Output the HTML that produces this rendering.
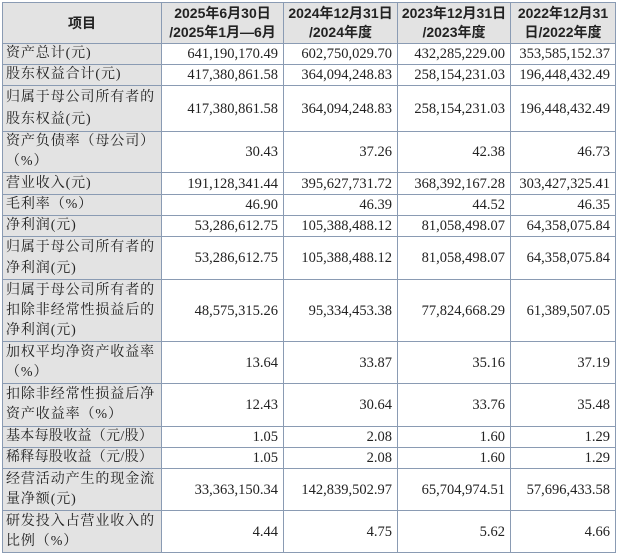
<!DOCTYPE html>
<html><head><meta charset="utf-8"><style>
body{margin:0;background:#fff;width:617px;height:554px;overflow:hidden}
table{position:absolute;left:2px;top:2px;border-collapse:collapse;table-layout:fixed;font-family:"Liberation Serif","Noto Serif CJK SC",serif;font-size:14.5px;color:#222}
td,th{border:1px solid #8a9bb3;padding:0 5px;line-height:18px;box-sizing:border-box;white-space:nowrap;overflow:hidden}
th{background:#e3e3e3;font-family:"Liberation Sans","Noto Sans CJK SC",sans-serif;font-weight:bold;font-size:14px;text-align:center;line-height:19px;padding:0 2px}
td.l{background:#e3e3e3;text-align:left;font-family:"Liberation Serif","Noto Serif CJK SC",serif;letter-spacing:0.9px;font-size:14px;padding:0 0 0 3px;line-height:20px}
td{text-align:right}
</style></head><body>
<table>
<colgroup><col style="width:159px"><col style="width:122px"><col style="width:114px"><col style="width:113px"><col style="width:105px"></colgroup>
<tr style="height:41px"><th>项目</th><th>2025年6月30日<br>/2025年1月—6月</th><th>2024年12月31日<br>/2024年度</th><th>2023年12月31日<br>/2023年度</th><th>2022年12月31<br>日/2022年度</th></tr>
<tr style="height:20px"><td class="l">资产总计(元)</td><td>641,190,170.49</td><td>602,750,029.70</td><td>432,285,229.00</td><td>353,585,152.37</td></tr>
<tr style="height:20px"><td class="l">股东权益合计(元)</td><td>417,380,861.58</td><td>364,094,248.83</td><td>258,154,231.03</td><td>196,448,432.49</td></tr>
<tr style="height:46px"><td class="l" style="line-height:22px">归属于母公司所有者的<br>股东权益(元)</td><td>417,380,861.58</td><td>364,094,248.83</td><td>258,154,231.03</td><td>196,448,432.49</td></tr>
<tr style="height:41px"><td class="l">资产负债率（母公司）<br>（%）</td><td>30.43</td><td>37.26</td><td>42.38</td><td>46.73</td></tr>
<tr style="height:22px"><td class="l">营业收入(元)</td><td>191,128,341.44</td><td>395,627,731.72</td><td>368,392,167.28</td><td>303,427,325.41</td></tr>
<tr style="height:20px"><td class="l">毛利率（%）</td><td>46.90</td><td>46.39</td><td>44.52</td><td>46.35</td></tr>
<tr style="height:21px"><td class="l">净利润(元)</td><td>53,286,612.75</td><td>105,388,488.12</td><td>81,058,498.07</td><td>64,358,075.84</td></tr>
<tr style="height:43px"><td class="l" style="line-height:21px">归属于母公司所有者的<br>净利润(元)</td><td>53,286,612.75</td><td>105,388,488.12</td><td>81,058,498.07</td><td>64,358,075.84</td></tr>
<tr style="height:62px"><td class="l">归属于母公司所有者的<br>扣除非经常性损益后的<br>净利润(元)</td><td>48,575,315.26</td><td>95,334,453.38</td><td>77,824,668.29</td><td>61,389,507.05</td></tr>
<tr style="height:42px"><td class="l">加权平均净资产收益率<br>（%）</td><td>13.64</td><td>33.87</td><td>35.16</td><td>37.19</td></tr>
<tr style="height:43px"><td class="l">扣除非经常性损益后净<br>资产收益率（%）</td><td>12.43</td><td>30.64</td><td>33.76</td><td>35.48</td></tr>
<tr style="height:21px"><td class="l" style="letter-spacing:0.3px">基本每股收益（元/股）</td><td>1.05</td><td>2.08</td><td>1.60</td><td>1.29</td></tr>
<tr style="height:21px"><td class="l" style="letter-spacing:0.3px">稀释每股收益（元/股）</td><td>1.05</td><td>2.08</td><td>1.60</td><td>1.29</td></tr>
<tr style="height:42px"><td class="l">经营活动产生的现金流<br>量净额(元)</td><td>33,363,150.34</td><td>142,839,502.97</td><td>65,704,974.51</td><td>57,696,433.58</td></tr>
<tr style="height:42px"><td class="l">研发投入占营业收入的<br>比例（%）</td><td>4.44</td><td>4.75</td><td>5.62</td><td>4.66</td></tr>
</table>
</body></html>
